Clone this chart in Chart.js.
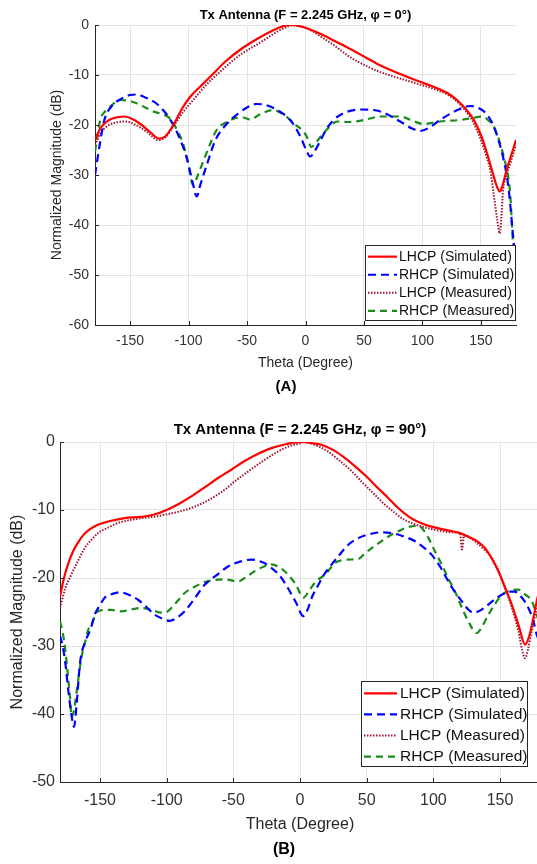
<!DOCTYPE html>
<html lang="en">
<head>
<meta charset="UTF-8">
<title>Tx Antenna patterns</title>
<script src="https://cdn.jsdelivr.net/npm/chart.js@4.4.1/dist/chart.umd.min.js"></script>
<style>
  html, body { margin: 0; padding: 0; background: #fff; }
  .page { position: relative; width: 537px; height: 864px; overflow: hidden; }
  .panel { position: absolute; left: 0; }
  #panelA { top: 0; width: 537px; height: 400px; }
  #panelB { top: 400px; width: 542px; height: 464px; }
</style>
</head>
<body>
<div class="page">
  <div class="panel" id="panelA"><canvas id="plotA"></canvas></div>
  <div class="panel" id="panelB"><canvas id="plotB"></canvas></div>
</div>
<script>
// ---- data ----
const seriesLabels = ['LHCP (Simulated)', 'RHCP (Simulated)', 'LHCP (Measured)', 'RHCP (Measured)'];
const thetaTicks = [-150, -100, -50, 0, 50, 100, 150];

// (A) phi = 0
const thA_lhcpSim = [-180,-175,-168,-160,-155,-148,-140,-132,-125,-120,-113,-105,-98,-90,-80,-68,-55,-40,-28,-20,-12,-4,5,15,25,40,53,65,81,95,110,122,130,137,144,150,155,160,164,166,168,172,176,180];
const dbA_lhcpSim = [-23,-20.5,-19,-18.4,-18.3,-18.8,-20,-21.6,-22.7,-22.3,-20,-16.5,-14.2,-12.3,-10,-7.2,-4.8,-2.6,-1.1,-0.3,0,-0.3,-1.0,-2.0,-3.2,-5,-6.7,-8.2,-9.8,-11.1,-12.4,-13.7,-15.1,-16.8,-19,-22,-25.5,-29.5,-32.5,-33.3,-32.5,-29,-26,-23];

const thA_rhcpSim = [-180,-176,-172,-166,-158,-150,-144,-136,-128,-120,-113,-107,-101,-96,-93,-90,-84,-77,-67,-58,-50,-42,-34,-22,-12,-4,1,4,8,13,18,24,35,47,64,81,91,98,106,115,130,141,151,157,161,165,169.5,173,175,177,179];
const dbA_rhcpSim = [-30,-24,-19,-16.3,-14.8,-14,-13.9,-14.6,-15.6,-17.5,-20,-23,-27,-32,-34.3,-32,-27.7,-23,-19.7,-17.8,-16.5,-15.8,-16,-17.3,-19.3,-22.5,-25.2,-26.3,-25.2,-23,-20.8,-19,-17.4,-16.9,-17.3,-19.3,-20.7,-21.2,-20.5,-19,-17,-16.2,-17,-18.5,-20.3,-23,-27,-31.5,-35.7,-41,-46];

const thA_lhcpMeas = [-180,-175,-168,-160,-154,-145,-135,-126,-120,-113,-105,-96,-85,-68,-55,-40,-28,-19,-11,-3,5,15,24,38,53,65,81,95,110,122,130,137,144,150,155,158,161,164,166,167,169,172,176,180];
const dbA_lhcpMeas = [-24,-21.5,-20,-19.4,-19.3,-20,-21.5,-23,-22.5,-20.3,-17.5,-15,-12,-8.3,-5.8,-3.7,-1.9,-0.7,-0.1,-0.3,-1.1,-2.6,-4,-6.4,-8.3,-9.5,-10.7,-11.7,-12.8,-14,-15.4,-17.2,-19.7,-23,-26.5,-29,-34,-39,-41.7,-40,-33,-30,-27,-24];

const thA_rhcpMeas = [-180,-175.5,-171,-167,-158,-150,-144,-137,-130,-123,-118,-113,-110,-105,-101,-96,-92,-87,-81,-76,-68,-61,-54,-47,-40,-28,-18,-10,-3,1,5,9,13,20,27,38,50,64,81,92,101,115,132,141,151,157,161,165.5,169.5,173,175,177.6,179];
const dbA_rhcpMeas = [-25.3,-19,-17.2,-16.3,-15,-15.2,-15.7,-16.5,-17.3,-17.8,-18.3,-19.5,-21,-23.5,-27,-32,-30,-27,-23.5,-21,-19.5,-18.7,-18.5,-18.9,-18,-17,-18,-19.7,-21,-22.3,-24.4,-23.5,-22.3,-20.5,-19.3,-19.4,-19,-18.3,-18.3,-19.2,-19.8,-19.3,-19,-18.7,-18.3,-19.2,-20.3,-23,-26.3,-30,-33.7,-44,-46];

// (B) phi = 90
const thB_lhcpSim = [-180,-177,-174,-170,-166.5,-163,-158,-152,-144,-131.5,-119,-110,-100,-90,-81.5,-71,-61.5,-51,-41.5,-31,-21.5,-10,1,10,16,25,34,42,51,58,66,73,81,88,96,111,120,126,133,138.8,144,148.8,154,158.8,164,168.8,172,175,178,180];
const dbB_lhcpSim = [-22.7,-20,-18,-16,-14.8,-13.8,-12.9,-12.2,-11.7,-11.2,-11,-10.7,-10,-9,-8,-6.6,-5.3,-4,-2.8,-1.7,-0.9,-0.3,0,-0.2,-0.4,-1.2,-2.4,-3.7,-5.3,-6.7,-8.2,-9.6,-10.9,-11.7,-12.3,-13,-13.4,-13.9,-14.6,-15.6,-17.2,-19,-21.5,-23.9,-27,-29.8,-28.5,-25.9,-23,-21.5];

const thB_rhcpSim = [-180,-178,-176,-173.8,-171.5,-169.5,-167.5,-165,-160.5,-157,-154,-150,-146.5,-140,-135,-128,-121.5,-115,-109,-103,-97.8,-92,-86.5,-79,-71.5,-62,-54,-45,-36.5,-28,-21.5,-15,-9,-3,2.5,6,9,13.8,18,23.8,30,36.3,43,51.3,60,68.8,78,86.3,92,98.8,105,111.3,116,121.3,126,130,135,141.3,147,153.8,158,161,166,171.3,175,177.5,180];
const dbB_rhcpSim = [-28.5,-30,-32.5,-36.5,-40,-41.9,-38.5,-32.5,-29.1,-27.5,-25.4,-24,-22.9,-22.3,-22.1,-22.5,-23.2,-24.3,-25.4,-26,-26.3,-25.8,-24.9,-23,-21,-19.5,-18.3,-17.6,-17.3,-17.7,-18.5,-19.7,-21.5,-23.6,-25.6,-24.5,-22.8,-21,-19.5,-18,-16.5,-15.1,-14.2,-13.6,-13.3,-13.4,-13.9,-14.6,-15.4,-16.6,-18.3,-20.5,-22,-23.4,-24.6,-25.1,-24.8,-23.9,-23,-22.2,-22,-22,-22.8,-24.4,-26.3,-28.3,-29.5];

const thB_lhcpMeas = [-180,-176,-171.5,-166,-161.5,-156,-151.5,-144,-136.5,-128,-119,-110,-101.5,-92,-81.5,-71,-61.5,-55,-49,-40,-31.5,-24,-16.5,-8,0,3,12,21,30,38.8,46,53.8,62,71,78,86,101,116,120,121.5,123,126,131,137,143.8,149,153.8,158.8,163.8,166.5,168.8,171,173.8,177,180];
const dbB_lhcpMeas = [-24.4,-21.5,-19.5,-17.3,-15.6,-14.3,-13.4,-12.6,-11.9,-11.5,-11.2,-11,-10.7,-10.3,-9.7,-8.8,-7.7,-6.8,-5.8,-4.5,-3.3,-2.3,-1.4,-0.6,-0.2,0,-0.5,-1.4,-2.8,-4.3,-5.8,-7.3,-8.9,-10.4,-11.4,-12.1,-12.9,-13.3,-13.4,-15.8,-13.8,-13.9,-14.6,-15.6,-17,-19,-21.5,-24.3,-27.8,-30.5,-31.8,-30.5,-27.8,-25,-23.5];

const thB_rhcpMeas = [-180,-178,-176,-174,-172.5,-171.3,-169.5,-168,-166,-163.8,-161,-158.8,-156.5,-154,-151.5,-146,-141.5,-134,-126,-119,-111,-104,-100,-96.5,-91,-86.5,-79,-71.5,-64,-56.5,-46.5,-40,-34,-27,-21.5,-15,-9,-3,2.5,7,12,18.8,26.3,35,43.8,48,53.8,61,68.8,75,81.3,88.8,92,96.3,101,106.3,111,116.3,121,126.3,132.5,137,141.3,146,151.3,157,163.8,168,173.8,177.5,180];
const dbB_rhcpMeas = [-26.4,-28,-30.6,-34.5,-37.5,-40.4,-39.5,-37.5,-34.5,-31.6,-29.3,-27.6,-26.9,-25.7,-24.9,-24.7,-24.7,-24.9,-24.6,-24.4,-24.7,-25.1,-25,-24.4,-23.2,-22.2,-21.3,-20.6,-20.3,-20.2,-20.5,-19.8,-19,-18.3,-18,-18.5,-19.5,-21,-22.9,-21.8,-20.5,-19.5,-17.8,-17.3,-17.2,-16.5,-15.6,-14.6,-13.6,-13,-12.5,-12.3,-12.8,-14.1,-16,-18,-20,-22,-24.2,-26.4,-28.1,-27,-25.4,-23.9,-22.5,-21.9,-21.7,-22.3,-23.4,-25.4,-27];

// ---- styling ----
const family = '"Liberation Sans", Arial, Helvetica, sans-serif';
const axisColor = '#262626';
const lineStyles = [
  { borderColor: '#ff0000', borderWidth: 2.2, borderDash: [] },
  { borderColor: '#0000ff', borderWidth: 2.2, borderDash: [8, 5] },
  { borderColor: '#a2142f', borderWidth: 2, borderDash: [1.5, 1.5] },
  { borderColor: '#1a8c1a', borderWidth: 2.2, borderDash: [7, 5] },
];

const pts = (t, d) => t.map((x, i) => ({ x, y: d[i] }));

function makeDatasets(pairs) {
  return pairs.map((p, i) => Object.assign({
    label: seriesLabels[i],
    data: pts(p[0], p[1]),
    pointRadius: 0,
    fill: false,
    cubicInterpolationMode: 'monotone',
  }, lineStyles[i]));
}

// legend box drawn inside the plot, matlab style
const boxLegend = {
  id: 'boxLegend',
  afterDraw(chart, args, o) {
    const { ctx, chartArea: a } = chart;
    const x0 = a.right - o.right - o.width;
    const y0 = a.bottom - o.bottom - o.height;
    ctx.save();
    ctx.fillStyle = '#fff';
    ctx.fillRect(x0, y0, o.width, o.height);
    ctx.strokeStyle = axisColor;
    ctx.lineWidth = 1;
    ctx.strokeRect(x0 + 0.5, y0 + 0.5, o.width, o.height);
    ctx.font = o.fontSize + 'px ' + family;
    ctx.textBaseline = 'middle';
    chart.data.datasets.forEach((ds, i) => {
      const cy = y0 + o.padTop + o.rowH * (i + 0.5);
      ctx.strokeStyle = ds.borderColor;
      ctx.lineWidth = ds.borderWidth;
      ctx.setLineDash(ds.borderDash);
      ctx.beginPath();
      ctx.moveTo(x0 + 3, cy);
      ctx.lineTo(x0 + 3 + o.sample, cy);
      ctx.stroke();
      ctx.setLineDash([]);
      ctx.fillStyle = '#111';
      ctx.fillText(ds.label, x0 + 3 + o.sample + o.gap, cy);
    });
    ctx.restore();
  }
};

// short inward tick marks on left and bottom axes
const innerTicks = {
  id: 'innerTicks',
  afterDraw(chart, args, o) {
    const { ctx, chartArea: a, scales } = chart;
    ctx.save();
    ctx.strokeStyle = axisColor;
    ctx.lineWidth = 1;
    ctx.beginPath();
    scales.x.ticks.forEach(t => {
      const px = Math.round(scales.x.getPixelForValue(t.value)) + 0.5;
      ctx.moveTo(px, a.bottom);
      ctx.lineTo(px, a.bottom - o.len);
    });
    scales.y.ticks.forEach(t => {
      const py = Math.round(scales.y.getPixelForValue(t.value)) + 0.5;
      ctx.moveTo(a.left, py);
      ctx.lineTo(a.left + o.len, py);
    });
    ctx.stroke();
    ctx.restore();
  }
};

// panel letter under the x axis title
const panelTag = {
  id: 'panelTag',
  afterDraw(chart, args, o) {
    const { ctx } = chart;
    ctx.save();
    ctx.font = 'bold ' + o.size + 'px ' + family;
    ctx.fillStyle = '#000';
    ctx.textAlign = 'center';
    ctx.textBaseline = 'middle';
    ctx.fillText(o.text, o.x, o.y);
    ctx.restore();
  }
};

function makeOptions(c) {
  return {
    responsive: true,
    maintainAspectRatio: false,
    animation: false,
    events: [],
    layout: { padding: { left: 0, right: c.padRight, top: 0, bottom: c.padBottom } },
    plugins: {
      legend: { display: false },
      tooltip: { enabled: false },
      title: {
        display: true, fullSize: false, text: c.title, color: '#000',
        font: { family, size: c.titleSize, weight: 'bold', lineHeight: 1.2 },
        padding: c.titlePad
      },
      panelTag: c.tag,
      boxLegend: c.legend,
      innerTicks: { len: 4 }
    },
    scales: {
      x: {
        type: 'linear', min: -180, max: 180,
        afterBuildTicks: s => { s.ticks = thetaTicks.map(v => ({ value: v })); },
        afterFit: s => { s.height = c.xHeight; },
        ticks: { color: '#333', padding: c.xTickPad, font: { family, size: c.tickSize, lineHeight: 1.2 } },
        grid: { color: '#e3e3e3', lineWidth: 1, drawTicks: false },
        border: { display: true, color: axisColor, width: 1 },
        title: {
          display: true, text: 'Theta (Degree)', color: '#262626',
          font: { family, size: c.labelSize, lineHeight: 1.2 },
          padding: { top: 0, bottom: c.xTitlePad }
        }
      },
      y: {
        min: c.yMin, max: 0,
        afterFit: s => { s.width = c.yWidth; },
        ticks: { stepSize: 10, color: '#333', padding: c.yTickPad, font: { family, size: c.tickSize, lineHeight: 1.2 } },
        grid: { color: '#e3e3e3', lineWidth: 1, drawTicks: false },
        border: { display: true, color: axisColor, width: 1 },
        title: {
          display: true, text: 'Normalized Magnitude (dB)', color: '#262626',
          font: { family, size: c.labelSize, lineHeight: 1.2 },
          padding: { top: c.yTitlePad, bottom: 0 }
        }
      }
    }
  };
}

new Chart(document.getElementById('plotA'), {
  type: 'line',
  data: {
    datasets: makeDatasets([
      [thA_lhcpSim, dbA_lhcpSim],
      [thA_rhcpSim, dbA_rhcpSim],
      [thA_lhcpMeas, dbA_lhcpMeas],
      [thA_rhcpMeas, dbA_rhcpMeas],
    ])
  },
  options: makeOptions({
    title: 'Tx Antenna (F = 2.245 GHz, \u03c6 = 0\u00b0)', titleSize: 13, titlePad: { top: 7.2, bottom: 2.2 },
    tag: { text: '(A)', size: 15, x: 286, y: 387 },
    padRight: 21, padBottom: 24.8, yWidth: 95, xHeight: 50.2, yMin: -60,
    tickSize: 14, labelSize: 14, xTickPad: 8, yTickPad: 6, xTitlePad: 3.8, yTitlePad: 48.6,
    legend: { right: 1, bottom: 5, width: 150, height: 75, rowH: 18.1, padTop: 2.6, fontSize: 14, sample: 29, gap: 2 }
  }),
  plugins: [boxLegend, innerTicks, panelTag]
});

new Chart(document.getElementById('plotB'), {
  type: 'line',
  data: {
    datasets: makeDatasets([
      [thB_lhcpSim, dbB_lhcpSim],
      [thB_rhcpSim, dbB_rhcpSim],
      [thB_lhcpMeas, dbB_lhcpMeas],
      [thB_rhcpMeas, dbB_rhcpMeas],
    ])
  },
  options: makeOptions({
    title: 'Tx Antenna (F = 2.245 GHz, \u03c6 = 90\u00b0)', titleSize: 15, titlePad: { top: 21, bottom: 3 },
    tag: { text: '(B)', size: 16, x: 284, y: 450 },
    padRight: 2, padBottom: 27.6, yWidth: 60, xHeight: 54.4, yMin: -50,
    tickSize: 16, labelSize: 16, xTickPad: 9, yTickPad: 5, xTitlePad: 1.8, yTitlePad: 8.4,
    legend: { right: 13, bottom: 16, width: 166, height: 85, rowH: 21.1, padTop: 1.8, fontSize: 15.5, sample: 33, gap: 3 }
  }),
  plugins: [boxLegend, innerTicks, panelTag]
});
</script>
</body>
</html>
